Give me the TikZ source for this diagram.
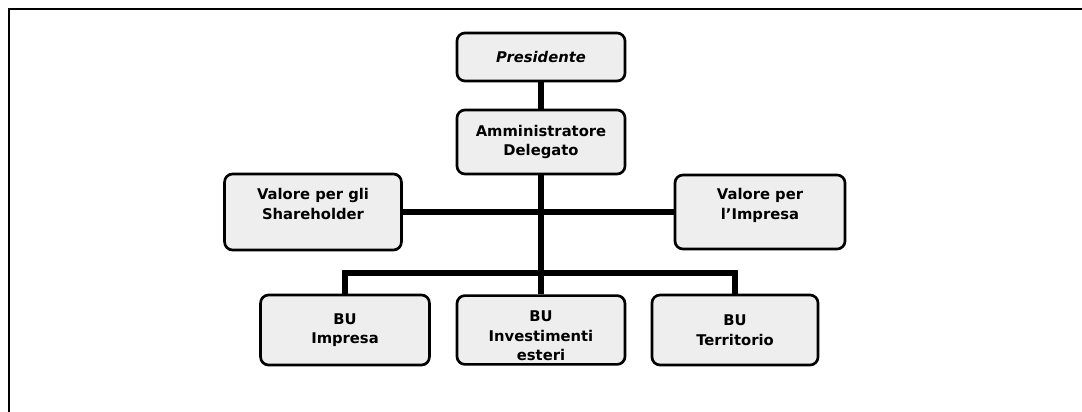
\documentclass[tikz,border=0pt]{standalone}
\usepackage{fontspec}
\setmainfont{DejaVu Sans}
\tikzset{
  orgbox/.style={draw=black, line width=1.9pt, rounded corners=0.2cm, fill=gray!13,
    align=center, font=\bfseries\fontsize{10.5}{14}\selectfont, inner sep=0pt},
  link/.style={line width=3.6pt}
}
\begin{document}
\begin{tikzpicture}[x=0.025cm,y=-0.025cm,line cap=butt,line join=miter]
  \useasboundingbox (0,0) rectangle (1082,412);
  % frame
  \draw[line width=1.4pt] (9,412) -- (9,9) -- (1082,9);
  % boxes
  \node[orgbox, minimum width=4.2cm, minimum height=1.2cm, font=\bfseries\itshape\fontsize{10.5}{14}\selectfont] (pres) at (541,57) {Presidente};
  \node[orgbox, minimum width=4.2cm, minimum height=1.6cm] (ad) at (541,142) {Amministratore\\Delegato};
  \node[orgbox, minimum width=4.42cm, minimum height=1.9cm] (share) at (313,212) {Valore per gli\\Shareholder\\[-0.1cm]};
  \node[orgbox, minimum width=4.25cm, minimum height=1.85cm] (impr) at (760,212) {Valore per\\l'Impresa\\[-0.1cm]};
  \node[orgbox, minimum width=4.22cm, minimum height=1.75cm] (buimp) at (345,330) {BU\\Impresa};
  \node[orgbox, minimum width=4.2cm, minimum height=1.72cm] (buest) at (541,330) {\rule{0pt}{16pt}BU\\Investimenti\\esteri};
  \node[orgbox, minimum width=4.15cm, minimum height=1.75cm] (buter) at (735,330) {BU\\Territorio};
  \coordinate (bus) at (541,273);
  % connectors
  \draw[link] (pres) -- (ad);
  \draw[link] (ad) -- (bus);
  \draw[link] (share.east) -- (impr.west);
  \draw[link] (buimp.north) -- (buimp.north |- bus) -- (buter.north |- bus) -- (buter.north);
  \draw[link] (bus) -- (buest);
\end{tikzpicture}
\end{document}
